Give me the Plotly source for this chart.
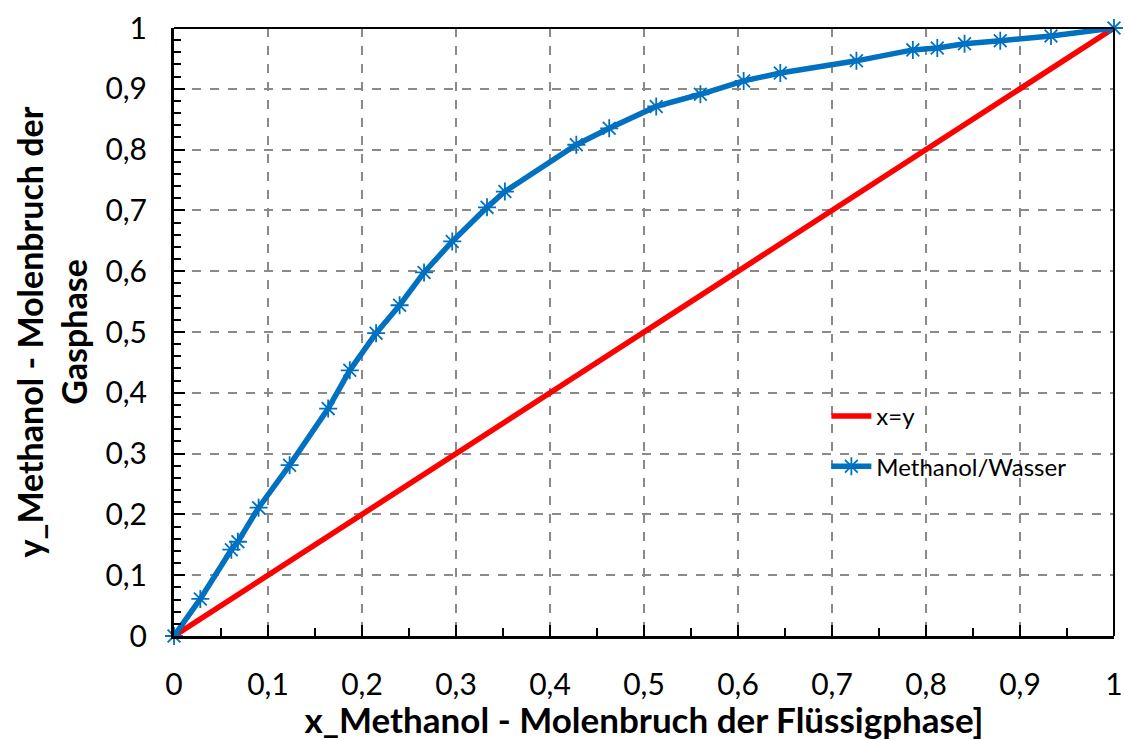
import plotly.graph_objects as go

# Methanol/Wasser equilibrium data (liquid mole fraction x, vapour mole fraction y)
x_methanol = [0, 0.028, 0.061, 0.068, 0.090, 0.123, 0.164, 0.187, 0.215, 0.240,
              0.266, 0.296, 0.333, 0.352, 0.428, 0.463, 0.513, 0.560, 0.606,
              0.645, 0.726, 0.786, 0.812, 0.841, 0.879, 0.933, 1.0]
y_methanol = [0, 0.061, 0.142, 0.155, 0.211, 0.281, 0.374, 0.437, 0.498, 0.544,
              0.598, 0.649, 0.705, 0.731, 0.808, 0.835, 0.871, 0.891, 0.913,
              0.926, 0.946, 0.964, 0.967, 0.974, 0.979, 0.987, 1.0]

# Diagonal x = y
diag = [0, 1]

tick_vals = [0, 0.1, 0.2, 0.3, 0.4, 0.5, 0.6, 0.7, 0.8, 0.9, 1]

FONT = "Lato"
BLUE = "#0070C0"
RED = "#FF0000"

fig = go.Figure()
fig.add_trace(go.Scatter(
    x=diag, y=diag, mode="lines", name="x=y",
    line=dict(color=RED, width=5.5), legendgroup="a", cliponaxis=False,
))
fig.add_trace(go.Scatter(
    x=x_methanol, y=y_methanol, mode="lines+markers", name="Methanol/Wasser",
    line=dict(color=BLUE, width=5.5),
    marker=dict(symbol="asterisk-open", size=15, color=BLUE,
                line=dict(color=BLUE, width=1.8)),
    legendgroup="b", cliponaxis=False,
))

axis_common = dict(
    range=[0, 1],
    tickvals=tick_vals,
    automargin=False,
    showgrid=True, gridcolor="#8a8a8a", gridwidth=1.5, griddash="dash",
    zeroline=False,
    showline=True, linecolor="black", linewidth=3,
    ticks="inside", ticklen=11, tickwidth=2, tickcolor="black",
    tickfont=dict(family=FONT, size=30, color="black"),
)

fig.update_xaxes(
    **axis_common,
    minor=dict(dtick=0.05, ticks="inside", ticklen=8, tickwidth=2,
               tickcolor="black", showgrid=False),
    ticklabelstandoff=20,
    title=dict(text="<b>x_Methanol - Molenbruch der Flüssigphase]</b>",
               font=dict(family=FONT, size=35, color="black"), standoff=0),
)
fig.update_yaxes(
    **axis_common,
    minor=dict(dtick=0.02, ticks="inside", ticklen=7, tickwidth=2,
               tickcolor="black", showgrid=False),
    ticklabelstandoff=18,
    title=dict(text="<b>y_Methanol - Molenbruch der<br>Gasphase</b>",
               font=dict(family=FONT, size=34, color="black"), standoff=8),
)

# thin frame on the top and right side of the plot area
fig.add_shape(type="line", xref="paper", yref="paper", x0=0, x1=1, y0=1, y1=1,
              line=dict(color="black", width=2))
fig.add_shape(type="line", xref="paper", yref="paper", x0=1, x1=1, y0=0, y1=1,
              line=dict(color="black", width=2))

fig.update_layout(
    width=1125, height=740,
    margin=dict(l=174, r=11, t=28, b=104),
    plot_bgcolor="white", paper_bgcolor="white",
    separators=", ",
    font=dict(family=FONT, color="black"),
    legend=dict(
        x=0.694, y=0.398, xanchor="left", yanchor="top",
        bgcolor="rgba(0,0,0,0)", traceorder="grouped", tracegroupgap=16,
        font=dict(family=FONT, size=24, color="black"),
        itemwidth=40,
    ),
)

fig.write_html("out.html")
